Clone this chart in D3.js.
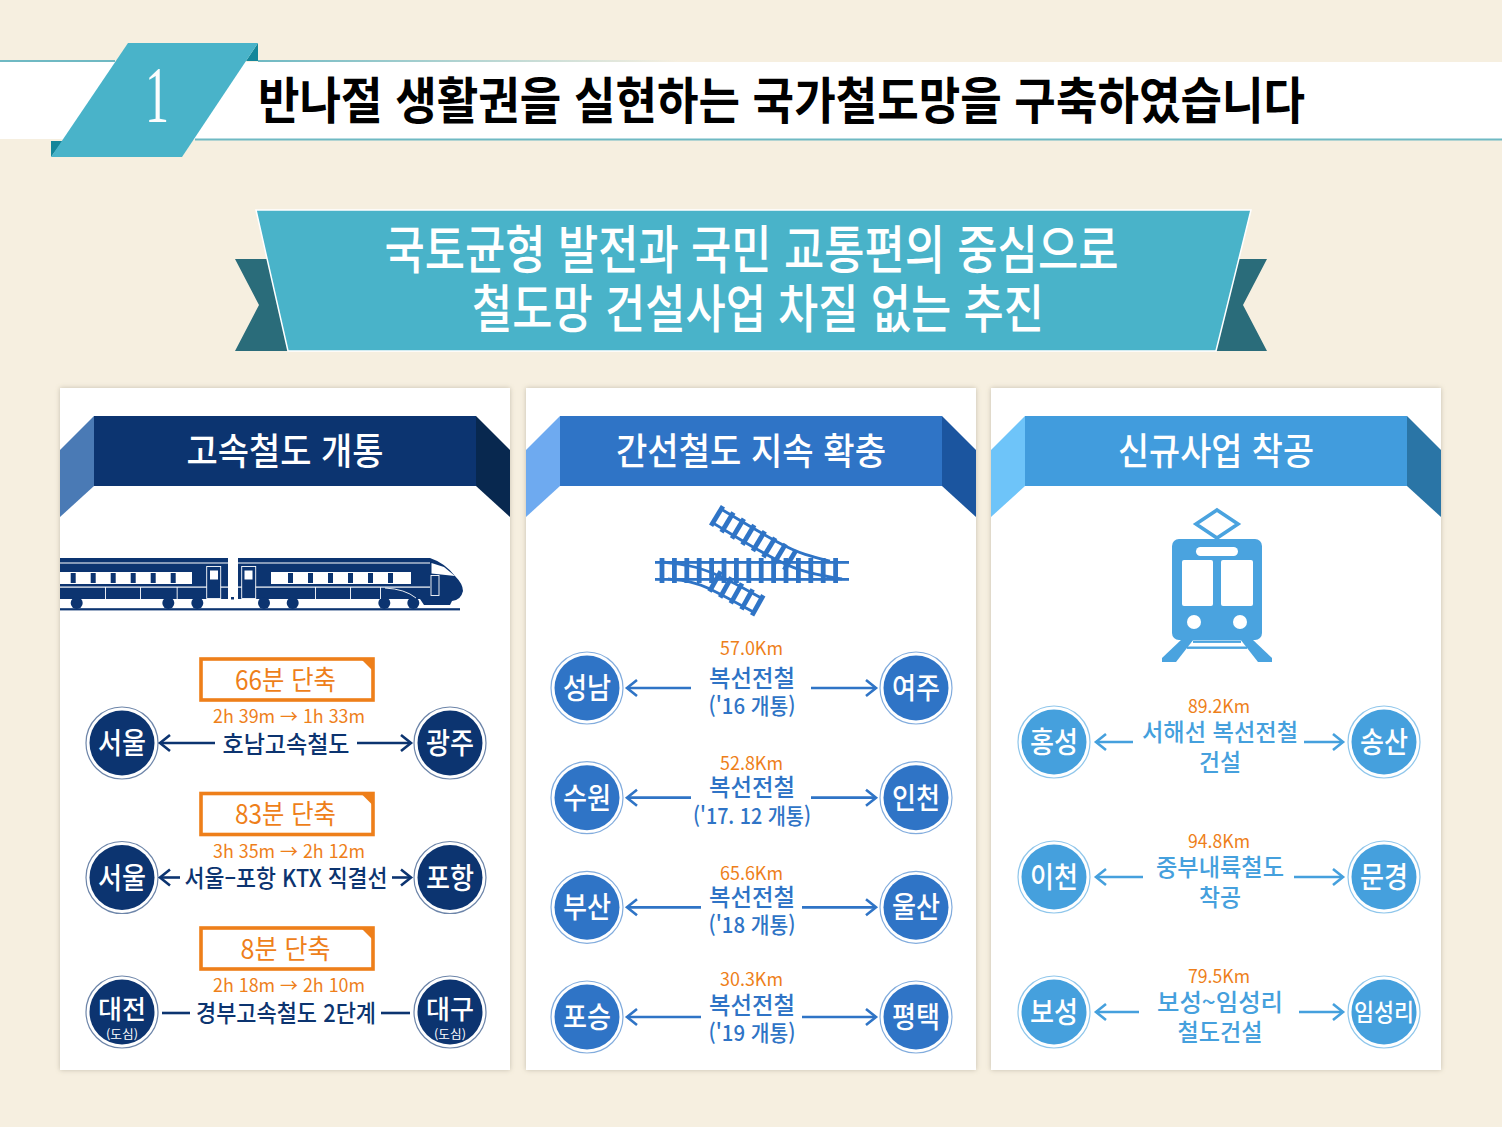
<!DOCTYPE html>
<html lang="ko">
<head>
<meta charset="UTF-8">
<script src="https://d3js.org/d3.v7.min.js"></script>
<style>
  html, body { margin: 0; padding: 0; background: #f6efe0; }
  svg { display: block; }
  text { font-family: "Noto Sans CJK KR", "Noto Sans", sans-serif; }
</style>
</head>
<body>
<svg id="chart" width="1502" height="1127"></svg>
<script>
// ---- content ----
const pageNumber = "1";
const pageTitle = "반나절 생활권을 실현하는 국가철도망을 구축하였습니다";
const bannerLines = ["국토균형 발전과 국민 교통편의 중심으로", "철도망 건설사업 차질 없는 추진"];
const sectionTitles = ["고속철도 개통", "간선철도 지속 확충", "신규사업 착공"];

const fastFrom = ["서울", "서울", "대전"];
const fastTo = ["광주", "포항", "대구"];
const fastLine = ["호남고속철도", "서울–포항 KTX 직결선", "경부고속철도 2단계"];
const fastSaved = ["66분 단축", "83분 단축", "8분 단축"];
const fastTime = ["2h 39m → 1h 33m", "3h 35m → 2h 12m", "2h 18m → 2h 10m"];
const fastNote = [null, null, "(도심)"];

const trunkFrom = ["성남", "수원", "부산", "포승"];
const trunkTo = ["여주", "인천", "울산", "평택"];
const trunkKm = ["57.0Km", "52.8Km", "65.6Km", "30.3Km"];
const trunkWork = ["복선전철", "복선전철", "복선전철", "복선전철"];
const trunkOpen = ["('16 개통)", "('17. 12 개통)", "('18 개통)", "('19 개통)"];

const newFrom = ["홍성", "이천", "보성"];
const newTo = ["송산", "문경", "임성리"];
const newKm = ["89.2Km", "94.8Km", "79.5Km"];
const newLine1 = ["서해선 복선전철", "중부내륙철도", "보성~임성리"];
const newLine2 = ["건설", "착공", "철도건설"];

// ---- layout and colours ----
const teal = "#49b3c9", tealDark = "#2a6c7a", tealFold = "#14869a";
const orange = "#ee7f1a";
const cards = [
  { x: 60, main: "#0c3470", left: "#4a7ab5", right: "#08284f", circle: "#0c3470" },
  { x: 526, main: "#2f74c6", left: "#6eaaf0", right: "#1b559f", circle: "#2f74c6" },
  { x: 991, main: "#419cdd", left: "#6ec4f9", right: "#2a75a6", circle: "#45a0dd" }
];
const fastY = d3.scalePoint().domain(d3.range(3)).range([743, 1012]);
const trunkY = d3.scalePoint().domain(d3.range(4)).range([688, 1017]);
const newY = d3.scalePoint().domain(d3.range(3)).range([742, 1012]);
const fastGap = [[215, 357], [180, 392], [190, 381]];
const fastWidth = [127, 203, 180];
const savedWidth = [101, 101, 90];
const trunkGap = [[691, 811], [691, 811], [701, 802], [701, 802]];
const trunkOpenWidth = [87, 118, 87, 87];
const trunkKmShift = [-39, -34, -33, -37];
const newGap = [[1133, 1304], [1143, 1294], [1139, 1299]];
const newWidth1 = [156, 128, 126];
const newWidth2 = [42, 42, 85];

const svg = d3.select("#chart");
const defs = svg.append("defs");
defs.append("filter").attr("id", "cardShadow")
  .attr("x", "-3%").attr("y", "-3%").attr("width", "106%").attr("height", "106%")
  .append("feDropShadow").attr("dx", 0).attr("dy", 0).attr("stdDeviation", 2.5)
  .attr("flood-color", "#8a8370").attr("flood-opacity", 0.45);
defs.append("clipPath").attr("id", "trainClip").append("rect")
  .attr("x", 60).attr("y", 540).attr("width", 450).attr("height", 90);
const fade = defs.append("linearGradient").attr("id", "fadeLine");
fade.append("stop").attr("offset", 0).attr("stop-color", "#6fb9c3");
fade.append("stop").attr("offset", 1).attr("stop-color", "#f6efe0");

function poly(g, pts, fill, stroke, sw) {
  return g.append("polygon").attr("points", pts.map(p => p.join(",")).join(" "))
    .attr("fill", fill).attr("stroke", stroke || "none").attr("stroke-width", sw || 0);
}
function rect(g, x, y, w, h, fill, r) {
  return g.append("rect").attr("x", x).attr("y", y).attr("width", w).attr("height", h)
    .attr("fill", fill).attr("rx", r || 0);
}
// text centred on cx, squeezed to the width it has in the picture
function label(g, str, cx, cy, size, fill, weight, width) {
  const t = g.append("text").attr("x", cx).attr("y", cy - 2).attr("text-anchor", "middle")
    .attr("dominant-baseline", "central").attr("font-size", size)
    .attr("font-weight", weight || 400).attr("fill", fill).text(str);
  if (width) t.attr("textLength", width).attr("lengthAdjust", "spacingAndGlyphs");
  return t;
}
function station(g, cx, cy, name, color, note) {
  g.append("circle").attr("cx", cx).attr("cy", cy).attr("r", 36)
    .attr("fill", "#fff").attr("stroke", color).attr("stroke-opacity", 0.6).attr("stroke-width", 1.2);
  g.append("circle").attr("cx", cx).attr("cy", cy).attr("r", 32.5).attr("fill", color);
  const w = name.length === 3 ? 60 : 48;
  const size = note ? 26 : (name.length === 3 ? 24 : 29);
  label(g, name, cx, note ? cy - 3 : cy, size, "#fff", 500, w);
  if (note) label(g, note, cx, cy + 23, 12, "#fff", 400, 32);
}
function arrow(g, x1, x2, y, color, head) {
  g.append("line").attr("x1", x1).attr("x2", x2).attr("y1", y).attr("y2", y)
    .attr("stroke", color).attr("stroke-width", 2.6);
  if (head) {
    const d = x2 > x1 ? -1 : 1;
    g.append("polyline")
      .attr("points", [[x2 + d * 10, y - 8], [x2, y], [x2 + d * 10, y + 8]].map(p => p.join(",")).join(" "))
      .attr("fill", "none").attr("stroke", color).attr("stroke-width", 2.6);
  }
}

// ---- heading strip ----
rect(svg, 0, 62, 1502, 77, "#fff");
rect(svg, 0, 60, 115, 2, "#6fb9c3");
rect(svg, 258, 60, 420, 2, "url(#fadeLine)");
rect(svg, 195, 138.5, 1307, 2, "#6fb9c3");
poly(svg, [[258, 43], [258, 61], [246, 61]], tealFold);
poly(svg, [[51, 141], [63, 141], [51, 157]], tealFold);
poly(svg, [[128, 43], [258, 43], [182, 157], [51, 157]], teal);
svg.append("text").attr("x", 157).attr("y", 122).attr("text-anchor", "middle")
  .style("font-family", "'Liberation Serif', serif").attr("font-size", 80).attr("fill", "#fbfdfd")
  .attr("textLength", 24).attr("lengthAdjust", "spacingAndGlyphs").text(pageNumber);
label(svg, pageTitle, 781.5, 99, 50, "#000", 700, 1047);

// ---- banner ----
poly(svg, [[235, 259], [270, 259], [290, 351], [235, 351], [259, 305]], tealDark);
poly(svg, [[1267, 259], [1234, 259], [1214, 351], [1267, 351], [1243, 305]], tealDark);
poly(svg, [[256, 210], [1251, 210], [1216, 351], [288, 351]], teal, "#fff", 1.5);
label(svg, bannerLines[0], 751.5, 248, 52, "#fff", 500, 734);
label(svg, bannerLines[1], 758, 307, 52, "#fff", 500, 572);

// ---- cards ----
const w = 450;
cards.forEach((c, i) => {
  const g = svg.append("g");
  rect(g, c.x, 388, w, 682, "#fff").attr("filter", "url(#cardShadow)");
  poly(g, [[c.x + 34, 416], [c.x + 34, 486], [c.x, 517], [c.x, 450]], c.left);
  poly(g, [[c.x + w - 34, 416], [c.x + w, 450], [c.x + w, 517], [c.x + w - 34, 486]], c.right);
  rect(g, c.x + 34, 416, w - 68, 70, c.main);
  label(g, sectionTitles[i], c.x + 225, 451, 37, "#fff", 500, [197, 270, 196][i]);
});

// ---- high speed column ----
const navy = cards[0].main;
fastFrom.forEach((name, i) => {
  const y = fastY(i), g = svg.append("g");
  const bx = 201, by = y - 84, bw = 172, bh = 41;
  g.append("rect").attr("x", bx).attr("y", by).attr("width", bw).attr("height", bh)
    .attr("fill", "#fff").attr("stroke", orange).attr("stroke-width", 3.6);
  poly(g, [[bx + bw - 12, by], [bx + bw, by], [bx + bw, by + 12]], orange);
  label(g, fastSaved[i], 285.5, y - 63, 27, orange, 400, savedWidth[i]);
  label(g, fastTime[i], 289, y - 26, 18, orange, 400, 152);
  label(g, fastLine[i], 286, y + 1, 24, navy, 500, fastWidth[i]);
  station(g, 122, y, name, navy, fastNote[i]);
  station(g, 450, y, fastTo[i], navy, fastNote[i]);
  const head = i < 2;
  arrow(g, fastGap[i][0], head ? 160 : 162, y + (head ? 0 : 1), navy, head);
  arrow(g, fastGap[i][1], head ? 411 : 410, y + (head ? 0 : 1), navy, head);
});

// ---- trunk line column ----
const blue = cards[1].main;
trunkFrom.forEach((name, i) => {
  const y = trunkY(i), g = svg.append("g");
  const shift = i === 3 ? -2 : 0;
  label(g, trunkKm[i], 751.5, y + trunkKmShift[i], 18, orange, 400, 63);
  label(g, trunkWork[i], 752, y - 10 + shift, 24, blue, 500, 86);
  label(g, trunkOpen[i], 752, y + 18 + shift, 22, blue, 500, trunkOpenWidth[i]);
  station(g, 587, y, name, blue);
  station(g, 916, y, trunkTo[i], blue);
  arrow(g, trunkGap[i][0], 627, y, blue, true);
  arrow(g, trunkGap[i][1], 876, y, blue, true);
});

// ---- new works column ----
const sky = cards[2].circle;
newFrom.forEach((name, i) => {
  const y = newY(i), g = svg.append("g");
  label(g, newKm[i], 1219, y - 35, 18, orange, 400, 62);
  label(g, newLine1[i], 1220, y - 10, 24, sky, 500, newWidth1[i]);
  label(g, newLine2[i], 1220, y + 20, 24, sky, 500, newWidth2[i]);
  station(g, 1054, y, name, sky);
  station(g, 1384, y, newTo[i], sky);
  arrow(g, newGap[i][0], 1096, y, sky, true);
  arrow(g, newGap[i][1], 1343, y, sky, true);
});

// ---- train icon ----
const train = svg.append("g").attr("clip-path", "url(#trainClip)");
rect(train, 60, 608.2, 400, 2.2, navy);
rect(train, 60, 558, 168, 41, navy);
train.append("path").attr("fill", navy)
  .attr("d", "M238,558 L430,558 Q445,563 455,576 Q463,584 463,591 Q461,600 452,601 L450,605 L424,605 L420,599 L238,599 Z");
[76.7, 168.3, 197.3, 264, 292.7, 384.3, 413.3].forEach(x => {
  train.append("circle").attr("cx", x).attr("cy", 603).attr("r", 6).attr("fill", navy);
});
[[60, 228], [238, 430]].forEach(([a, b]) => {
  rect(train, a, 562.5, b - a, 1, "#fff");
  rect(train, a, 586.5, b - a, 1.2, "#fff");
});
rect(train, 60, 572, 132, 12, "#fff");
d3.range(0, 6).forEach(k => rect(train, 70.7 + k * 20, 573, 5, 10, navy));
rect(train, 271, 572, 140, 12, "#fff");
d3.range(1, 7).forEach(k => rect(train, 268 + k * 20, 573, 5, 10, navy));
[206.7, 241.7].forEach(x => {
  train.append("rect").attr("x", x).attr("y", 566.5).attr("width", 14).attr("height", 32)
    .attr("fill", navy).attr("stroke", "#fff").attr("stroke-width", 0.9);
});
rect(train, 210, 570.5, 8, 9, "#fff");
rect(train, 244.5, 570.5, 8, 9, "#fff");
[105, 140, 176.7, 315, 350, 380].forEach(x => rect(train, x, 587, 0.9, 12, "#fff"));
poly(train, [[431.5, 563], [444, 567], [455, 576], [431.5, 573.5]], "#fff");
train.append("rect").attr("x", 431).attr("y", 575.5).attr("width", 8).attr("height", 20)
  .attr("fill", navy).attr("stroke", "#fff").attr("stroke-width", 0.9);
train.append("path").attr("d", "M385,588 Q405,589 416,598").attr("fill", "none").attr("stroke", "#fff").attr("stroke-width", 0.9);
rect(train, 231, 597, 3, 2.5, navy);

// ---- track icon ----
const track = svg.append("g");
const railLine = d3.line().curve(d3.curveBasis);
function rail(pts) {
  track.append("path").attr("fill", "none").attr("stroke", blue).attr("stroke-width", 2.8).attr("d", railLine(pts));
}
d3.range(15).forEach(k => rect(track, 662 + k * 12.4 - 2.4, 558, 4.8, 25, blue));
rect(track, 655, 561, 194, 2.8, blue);
rect(track, 655, 578, 194, 2.8, blue);
function branch(start, dir, count) {
  const len = Math.hypot(dir[0], dir[1]);
  const ux = dir[0] / len, uy = dir[1] / len;
  d3.range(count).forEach(k => {
    const cx = start[0] + ux * k * 12.2, cy = start[1] + uy * k * 12.2;
    track.append("line").attr("x1", cx + uy * 11.5).attr("y1", cy - ux * 11.5)
      .attr("x2", cx - uy * 11.5).attr("y2", cy + ux * 11.5)
      .attr("stroke", blue).attr("stroke-width", 4.8);
  });
}
branch([717, 516], [73, 44], 8);
rail([[721, 509], [781, 545], [805, 555], [830, 561]]);
rail([[713, 523], [764, 554], [800, 572], [842, 579]]);
branch([757.7, 605.3], [-44.7, -25], 5);
rail([[761.6, 598.3], [718, 574], [690, 565], [662, 562]]);
rail([[753.8, 612.3], [710, 588], [690, 581], [668, 579]]);

// ---- tram icon ----
const tram = svg.append("g");
const tramBlue = "#4aa3df";
poly(tram, [[1217, 510], [1238, 524], [1217, 538], [1196, 524]], "#fff", tramBlue, 3.6);
rect(tram, 1172, 539, 90, 101, tramBlue, 7);
rect(tram, 1196, 547, 42, 9, "#fff", 4.5);
rect(tram, 1182, 560, 31, 46, "#fff", 2);
rect(tram, 1221, 560, 32, 46, "#fff", 2);
tram.append("circle").attr("cx", 1194).attr("cy", 622).attr("r", 7).attr("fill", "#fff");
tram.append("circle").attr("cx", 1240).attr("cy", 622).attr("r", 7).attr("fill", "#fff");
poly(tram, [[1182, 639], [1194, 639], [1176, 662], [1162, 662], [1162, 658]], tramBlue);
poly(tram, [[1252, 639], [1240, 639], [1258, 662], [1272, 662], [1272, 658]], tramBlue);
rect(tram, 1193, 640.5, 48, 2.4, tramBlue);
rect(tram, 1187, 646.5, 60, 2.4, tramBlue);
</script>
</body>
</html>
